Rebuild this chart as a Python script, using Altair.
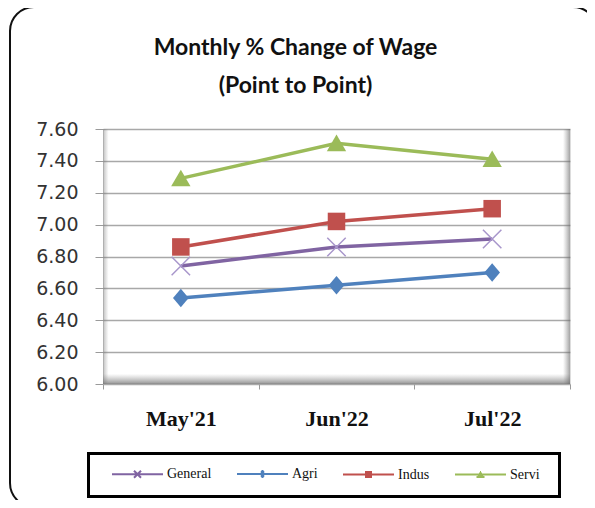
import altair as alt
import pandas as pd

# ---------------- data ----------------
months = ["May'21", "Jun'22", "Jul'22"]
series_names = ["General", "Agri", "Indus", "Servi"]
general = [6.74, 6.86, 6.91]
agri = [6.54, 6.62, 6.70]
indus = [6.86, 7.02, 7.10]
servi = [7.29, 7.51, 7.41]
y_tick_values = [6.00, 6.20, 6.40, 6.60, 6.80, 7.00, 7.20, 7.40, 7.60]
title_lines = ["Monthly % Change of Wage", "(Point to Point)"]

rows = []
for name, vals in zip(series_names, [general, agri, indus, servi]):
    for m, v in zip(months, vals):
        rows.append({"month": m, "series": name, "value": v})
df = pd.DataFrame(rows)
one = pd.DataFrame({"k": [0]})

# ---------------- styles ----------------
line_colors = ["#8064A2", "#4F81BD", "#C0504D", "#9BBB59"]
marker_colors = ["#A896CB", "#4F81BD", "#C0504D", "#9BBB59"]
marker_paths = [
    "M-1,-1L1,1M-1,1L1,-1",
    "M0,-1L0.85,0L0,1L-0.85,0Z",
    "M-0.95,-0.95H0.95V0.95H-0.95Z",
    "M0,-0.95L1.05,0.85L-1.05,0.85Z",
]
LINE = "M-1,0H9.2"
legend_paths = [
    LINE + "M3.4,-0.7L4.8,0.7M3.4,0.7L4.8,-0.7",
    LINE + "M4.1,-0.8V0.8M3.4,0H4.8M3.75,-0.38H4.45M3.75,0.38H4.45",
    LINE + "M3.4,-0.5H4.8M3.4,-0.2H4.8M3.4,0.2H4.8M3.4,0.5H4.8",
    LINE + "M3.3,0.5H4.9M3.55,0.15H4.65M3.8,-0.2H4.4M4.0,-0.5H4.2",
]

W, H = 467, 255

x_enc = alt.X(
    "month:N",
    sort=months,
    bandPosition=0.5,
    scale=alt.Scale(type="band", domain=months, paddingInner=0, paddingOuter=0),
    axis=alt.Axis(
        title=None, labelAngle=0, tickBand="extent", domain=False, grid=False,
        labelFont="Liberation Serif", labelFontWeight="bold", labelFontSize=22,
        labelColor="#111111", tickColor="#9a9a9a", tickSize=5, labelPadding=19,
    ),
)
y_enc = alt.Y(
    "value:Q",
    scale=alt.Scale(domain=[6.0, 7.6], nice=False, zero=False),
    axis=alt.Axis(
        title=None, values=y_tick_values, format=".2f", domain=False,
        labelFont="DejaVu Sans", labelFontSize=19, labelColor="#333333",
        tickColor="#9a9a9a", tickSize=8, labelPadding=17,
        gridColor="#a8a8a8", gridWidth=1.5,
    ),
)
color_scale = alt.Scale(domain=series_names, range=line_colors)

leg = alt.Legend(
    title=None, orient="none", legendX=7, legendY=338, direction="horizontal",
    columns=4, symbolSize=100, symbolStrokeWidth=2, symbolOpacity=1,
    labelFont="Liberation Serif", labelFontSize=14, labelColor="#111111",
    labelOffset=43, columnPadding=21, padding=0,
)

# plot-area edge shading
shade_v = alt.Chart(one).mark_rect(
    fill=alt.Gradient(gradient="linear", x1=0, y1=0, x2=0, y2=1, stops=[
        alt.GradientStop(offset=0, color="rgba(128,128,128,0)"),
        alt.GradientStop(offset=0.96, color="rgba(128,128,128,0)"),
        alt.GradientStop(offset=1, color="rgba(90,90,90,0.65)"),
    ])
).encode(x=alt.value(0), x2=alt.value("width"), y=alt.value(0), y2=alt.value("height"))
shade_h = alt.Chart(one).mark_rect(
    fill=alt.Gradient(gradient="linear", x1=0, y1=0, x2=1, y2=0, stops=[
        alt.GradientStop(offset=0, color="rgba(110,110,110,0.45)"),
        alt.GradientStop(offset=0.012, color="rgba(128,128,128,0)"),
        alt.GradientStop(offset=0.985, color="rgba(128,128,128,0)"),
        alt.GradientStop(offset=1, color="rgba(100,100,100,0.6)"),
    ])
).encode(x=alt.value(0), x2=alt.value("width"), y=alt.value(0), y2=alt.value("height"))

lines = alt.Chart(df).mark_line(strokeWidth=3.5).encode(
    x=x_enc, y=y_enc, color=alt.Color("series:N", scale=color_scale, legend=leg),
)

marker_layers = []
for name, mc, path in zip(series_names, marker_colors, marker_paths):
    if name == "General":
        mk = alt.Chart(df).mark_point(shape=path, filled=False, size=340, color=mc,
                                      strokeWidth=1.5, opacity=1)
    else:
        mk = alt.Chart(df).mark_point(shape=path, filled=True, size=340, color=mc,
                                      opacity=1)
    marker_layers.append(mk.encode(x=x_enc, y=y_enc).transform_filter(alt.datum.series == name))

legend_layer = alt.Chart(df).mark_point(filled=False, opacity=0, size=100, strokeWidth=2).encode(
    x=x_enc, y=y_enc,
    color=alt.Color("series:N", scale=color_scale, legend=leg),
    shape=alt.Shape("series:N", scale=alt.Scale(domain=series_names, range=legend_paths), legend=leg),
)

legend_box = alt.Chart(one).mark_rect(filled=False, stroke="#000000", strokeWidth=3).encode(
    x=alt.value(-14.5), x2=alt.value(456.5), y=alt.value(324.5), y2=alt.value(367.5)
)
outer_frame = alt.Chart(one).mark_rect(filled=False, stroke="#111111", strokeWidth=2,
                                       cornerRadius=24).encode(
    x=alt.value(-93), x2=alt.value(494), y=alt.value(-122), y2=alt.value(378)
)

chart = alt.layer(
    shade_v, shade_h, lines, *marker_layers, legend_layer, legend_box, outer_frame
).properties(
    width=W, height=H,
    autosize="none",
    padding={"left": 95, "top": 121, "right": 17, "bottom": 116},
    title=alt.TitleParams(
        text=title_lines, font="Lato", fontSize=23, fontWeight="bold", color="#111111",
        anchor="middle", frame="group", dx=-41, offset=-92, lineHeight=38,
    ),
).configure_view(stroke="#9f9f9f", strokeWidth=1.5).configure(background="white")

chart.save("out.html", embed_options={"renderer": "svg", "actions": False})
